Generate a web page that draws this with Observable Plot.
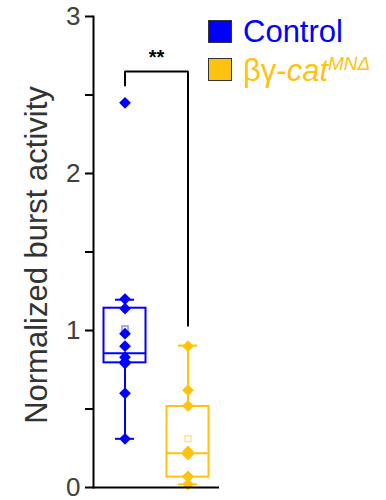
<!DOCTYPE html>
<html>
<head>
<meta charset="utf-8">
<script src="https://cdn.jsdelivr.net/npm/d3@7"></script>
<script src="https://cdn.jsdelivr.net/npm/@observablehq/plot@0.6"></script>
<style>
  html, body { margin: 0; padding: 0; background: #fff; }
  #wrap { position: relative; width: 386px; height: 500px; font-family: "Liberation Sans", Arial, sans-serif; }
  #chart svg { overflow: visible; }
  .lg { position: absolute; left: 208px; width: 22px; height: 21px; border: 1px solid #333; }
  .lt { position: absolute; left: 243px; font-size: 31px; line-height: 1; white-space: nowrap; }
</style>
</head>
<body>
<div id="wrap">
  <div id="chart"></div>
  <div class="lg" style="top:20px; background:#0000ff;"></div>
  <div class="lt" style="top:16px; color:#0000ff;">Control</div>
  <div class="lg" style="top:58px; background:#ffc20e;"></div>
  <div class="lt" style="top:54px; color:#ffc20e;">βγ-<i>cat</i><sup style="font-size:19px; font-style:italic; vertical-align: 11px;">MNΔ</sup></div>
</div>
<script>
// Groups and colors
const groups = ["Control", "βγ-catMNΔ"];
const colors = ["#0000ff", "#ffc20e"];

// Individual values
const controlValues = [2.45, 1.20, 1.14, 0.98, 0.90, 0.83, 0.80, 0.79, 0.60, 0.31];
const mutantValues = [0.90, 0.62, 0.52, 0.23, 0.21, 0.07, 0.07, 0.02];

// Box statistics (per group)
const q1 = [0.794, 0.066];
const medians = [0.855, 0.218];
const q3 = [1.142, 0.516];
const whiskerLow = [0.31, 0.02];
const whiskerHigh = [1.196, 0.904];
const means = [1.01, 0.31];

// Significance bracket
const sigLabel = "**";
const bracketTop = 2.65;
const bracketEnds = [2.56, 1.03];
const sigY = 2.74;

// Axis ticks
const majorTicks = [0, 1, 2, 3];
const minorTicks = [0.5, 1.5, 2.5];
const yLabel = "Normalized burst activity";

const points = [
  ...controlValues.map(v => ({group: groups[0], value: v})),
  ...mutantValues.map(v => ({group: groups[1], value: v}))
];
const stats = groups.map((g, i) => ({
  group: g, q1: q1[i], median: medians[i], q3: q3[i],
  lo: whiskerLow[i], hi: whiskerHigh[i], mean: means[i]
}));
const bracket = [
  {group: groups[0], value: bracketEnds[0]},
  {group: groups[0], value: bracketTop},
  {group: groups[1], value: bracketTop},
  {group: groups[1], value: bracketEnds[1]}
];

const chart = Plot.plot({
  width: 386,
  height: 500,
  marginLeft: 93,
  marginRight: 167,
  marginTop: 16,
  marginBottom: 13,
  style: {fontFamily: '"Liberation Sans", Arial, sans-serif', background: "white", overflow: "visible"},
  x: {type: "band", domain: groups, padding: 0, axis: null},
  y: {domain: [0, 3], axis: null},
  color: {domain: groups, range: colors},
  marks: [
    Plot.axisY({ticks: majorTicks, tickSize: 8, tickPadding: 5, fontSize: 26, fill: "#404040", stroke: "black", strokeWidth: 2, label: null, tickFormat: d3.format("d")}),
    Plot.axisY({ticks: minorTicks, tickSize: 8, tickPadding: 5, stroke: "black", strokeWidth: 2, label: null, tickFormat: () => ""}),
    Plot.text([yLabel], {frameAnchor: "left", textAnchor: "middle", rotate: -90, dx: -56, dy: 3, fontSize: 31, fill: "#333", text: d => d}),
    // whiskers
    Plot.ruleX(stats, {x: "group", y1: "q3", y2: "hi", stroke: "group", strokeWidth: 2}),
    Plot.ruleX(stats, {x: "group", y1: "lo", y2: "q1", stroke: "group", strokeWidth: 2}),
    Plot.tickY(stats, {x: "group", y: "hi", stroke: "group", strokeWidth: 2, inset: 22}),
    Plot.tickY(stats, {x: "group", y: "lo", stroke: "group", strokeWidth: 2, inset: 22}),
    // box
    Plot.barY(stats, {x: "group", y1: "q1", y2: "q3", fill: "none", stroke: "group", strokeWidth: 2, insetLeft: 10.5, insetRight: 10.5}),
    Plot.tickY(stats, {x: "group", y: "median", stroke: "group", strokeWidth: 2, inset: 10.5}),
    // mean
    Plot.dot(stats, {x: "group", y: "mean", symbol: "square", r: 3.4, stroke: "group", strokeOpacity: 0.45, strokeWidth: 1.5, fill: "none"}),
    // points
    Plot.dot(points, {x: "group", y: "value", symbol: "diamond2", r: 5.3, fill: "group", stroke: "none"}),
    // bracket
    Plot.line(bracket, {x: "group", y: "value", stroke: "black", strokeWidth: 2, strokeLinejoin: "miter", curve: "linear"}),
    Plot.text([sigLabel], {x: () => groups[0], y: () => sigY, dx: 31.5, text: d => d, fontSize: 20, fontWeight: "bold", fill: "black"}),
    // axis lines
    Plot.ruleY([0], {stroke: "black", strokeWidth: 2}),
    Plot.frame({anchor: "left", stroke: "black", strokeWidth: 2})
  ]
});
document.getElementById("chart").appendChild(chart);
</script>
</body>
</html>
